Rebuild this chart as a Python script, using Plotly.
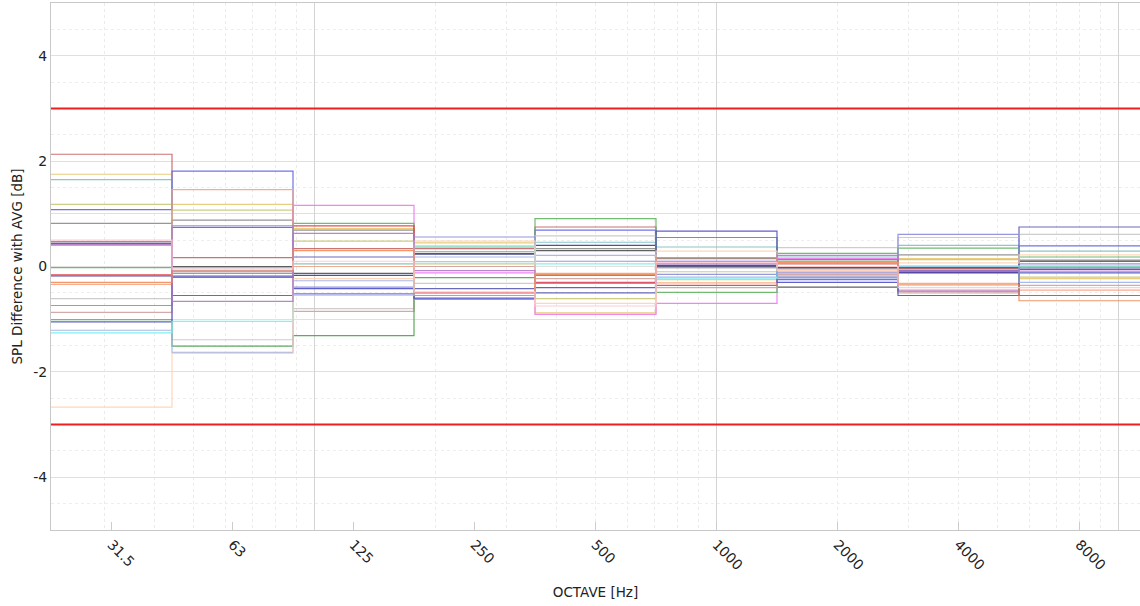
import math
import plotly.graph_objects as go

# Octave band centres (Hz) and their printed labels
band_centers = [1000 * 2 ** k for k in range(-5, 4)]
band_labels = ["31.5", "63", "125", "250", "500", "1000", "2000", "4000", "8000"]

# SPL difference from the average (dB), one row per measurement position,
# one value per octave band (31.5 Hz ... 8 kHz)
pos_01 = [2.13, 0.17, 0.34, 0.34, 0.75, 0.16, 0.05, -0.04, 0.10]
pos_02 = [1.75, 1.18, 0.72, 0.45, -0.88, -0.25, -0.17, 0.15, -0.23]
pos_03 = [1.65, -0.02, 0.05, 0.09, 0.46, 0.37, 0.18, 0.40, 0.29]
pos_04 = [1.18, 1.07, 0.48, 0.05, -0.61, -0.10, 0.00, 0.13, -0.20]
pos_05 = [1.08, 1.81, -0.52, -0.62, 0.69, 0.10, -0.25, -0.11, 0.39]
pos_06 = [0.82, 0.88, 0.69, 0.28, 0.34, 0.15, 0.10, 0.22, 0.12]
pos_07 = [0.47, -0.55, 0.18, -0.42, -0.50, 0.00, -0.20, -0.08, 0.75]
pos_08 = [0.44, 0.00, -0.13, 0.24, 0.30, -0.01, -0.39, -0.02, 0.10]
pos_09 = [0.40, -0.10, 1.16, -0.12, -0.91, -0.70, 0.15, -0.45, -0.06]
pos_10 = [-0.02, -0.13, 0.82, 0.37, 0.91, -0.49, 0.25, 0.35, 0.18]
pos_11 = [-0.16, 0.74, 0.77, -0.50, -0.30, -0.36, -0.04, -0.10, -0.55]
pos_12 = [-0.18, -0.20, -0.17, 0.24, 0.40, 0.02, -0.02, -0.12, -0.05]
pos_13 = [-0.34, 1.46, 0.00, -0.55, -0.13, -0.31, -0.10, -0.32, -0.45]
pos_14 = [-0.61, -1.39, -0.80, -0.32, 0.58, -0.03, 0.36, 0.55, 0.61]
pos_15 = [-0.74, 0.77, -0.39, 0.56, 0.10, -0.15, -0.12, 0.61, 0.05]
pos_16 = [-0.87, -0.08, -0.85, 0.00, -0.23, -0.40, -0.15, -0.50, -0.36]
pos_17 = [-1.01, -1.51, -1.31, -0.21, -0.17, 0.55, 0.13, -0.47, -0.01]
pos_18 = [-1.05, -0.18, -0.42, -0.60, -0.40, 0.67, -0.30, -0.55, -0.12]
pos_19 = [-1.21, -1.63, -0.27, 0.18, 0.21, -0.20, -0.22, 0.00, -0.30]
pos_20 = [-1.26, -1.04, -0.55, 0.39, 0.05, -0.22, -0.05, 0.01, 0.01]
pos_21 = [-2.67, -1.65, -0.23, 0.48, -0.70, 0.29, -0.08, 0.07, 0.22]
pos_22 = [0.42, -0.66, 0.63, -0.08, -0.32, 0.05, 0.21, -0.07, -0.09]
pos_23 = [-0.30, -0.09, 0.30, -0.55, -0.15, 0.17, 0.08, -0.35, -0.65]
pos_24 = [0.50, -0.05, 0.10, -0.48, -0.75, 0.08, 0.00, -0.40, -0.40]

positions = [pos_01, pos_02, pos_03, pos_04, pos_05, pos_06, pos_07, pos_08,
             pos_09, pos_10, pos_11, pos_12, pos_13, pos_14, pos_15, pos_16,
             pos_17, pos_18, pos_19, pos_20, pos_21, pos_22, pos_23, pos_24]

line_colors = ["#c86464", "#e8c870", "#7cc4c4", "#c8c878", "#6464e6", "#8c8c8c",
               "#5a5ab4", "#505050", "#f078f0", "#64b464", "#e63c3c", "#3c3c96",
               "#f5a582", "#c8c8c8", "#8c8cdc", "#d2a0a0", "#50a050", "#5050c8",
               "#a0b4e6", "#78f0f0", "#ffd2b4", "#b478c8", "#f08c5a", "#ffc8d2"]

# Tolerance limits (dB)
limit_upper = 3
limit_lower = -3

# Band edges: each octave spans centre/sqrt(2) .. centre*sqrt(2)
edges = [c / math.sqrt(2) for c in band_centers] + [band_centers[-1] * math.sqrt(2)]
x_range = [math.log10(edges[0]), math.log10(edges[-1])]

fig = go.Figure()

for vals, col in zip(positions, line_colors):
    fig.add_trace(go.Scatter(
        x=edges, y=vals + [vals[-1]],
        mode="lines", line=dict(color=col, width=1.2, shape="hv"),
        opacity=0.9, showlegend=False, hoverinfo="skip",
    ))

for lim in (limit_upper, limit_lower):
    fig.add_trace(go.Scatter(
        x=[edges[0], edges[-1]], y=[lim, lim], mode="lines",
        line=dict(color="#f01e1e", width=2), showlegend=False, hoverinfo="skip",
    ))

minor_grid = [m * 10 ** d for d in range(1, 5) for m in range(1, 10)
              if edges[0] <= m * 10 ** d <= edges[-1] and m != 1]

font_family = "DejaVu Sans"

fig.update_layout(
    width=1140, height=606,
    margin=dict(l=51, r=0, t=3, b=76),
    paper_bgcolor="white", plot_bgcolor="white",
    font=dict(family=font_family, size=13, color="#222"),
    xaxis=dict(
        type="log", range=x_range,
        tickmode="array", tickvals=band_centers, ticktext=band_labels,
        tickangle=45, ticks="inside", ticklen=8, tickcolor="#cccccc",
        showgrid=False, zeroline=False,
        showline=True, linecolor="#c8c8c8", mirror=True,
        tickfont=dict(size=14, color="#222"),
        title=dict(text="OCTAVE [Hz]", font=dict(size=13.5), standoff=15),
        minor=dict(tickmode="array", tickvals=minor_grid, showgrid=True,
                   gridcolor="#ebebeb", griddash="3px,3px", gridwidth=1, ticks=""),
    ),
    xaxis2=dict(
        type="log", range=x_range, overlaying="x",
        tickmode="array", tickvals=[100, 1000, 10000], showticklabels=False,
        showgrid=True, gridcolor="#d4d4d4", gridwidth=1, zeroline=False,
        showline=False, ticks="",
    ),
    yaxis=dict(
        range=[-5, 5],
        tickmode="array", tickvals=list(range(-4, 5)),
        ticktext=[str(v) if v % 2 == 0 else "" for v in range(-4, 5)],
        showgrid=True, gridcolor="#e0e0e0", gridwidth=1, zeroline=False,
        showline=True, linecolor="#c8c8c8", mirror=True, ticks="",
        tickfont=dict(size=14, color="#222"),
        title=dict(text="SPL Difference with AVG [dB]", font=dict(size=13.5), standoff=7),
        minor=dict(dtick=0.5, showgrid=True, gridcolor="#eeeeee", griddash="3px,3px"),
    ),
)

# invisible trace so the decade grid axis is rendered
fig.add_trace(go.Scatter(x=[edges[0]], y=[0], xaxis="x2", mode="markers",
                         marker=dict(opacity=0), showlegend=False, hoverinfo="skip"))

fig.write_html("out.html")
